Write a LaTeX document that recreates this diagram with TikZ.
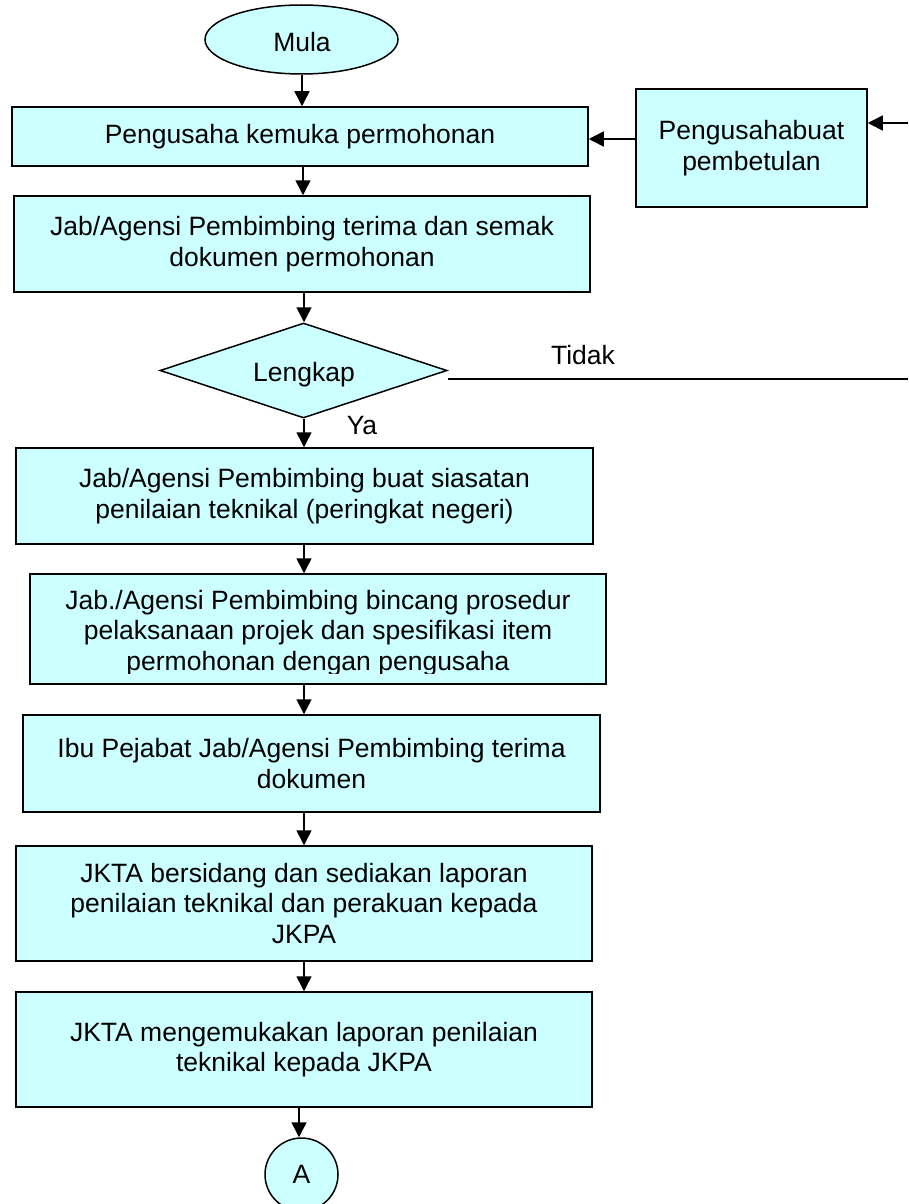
\documentclass[tikz,border=0pt]{standalone}
\usepackage{fontspec}
\setmainfont{Liberation Sans}
\usetikzlibrary{arrows.meta,shapes.geometric}
\definecolor{boxfill}{HTML}{CCFFFF}
\begin{document}
\begin{tikzpicture}[x=1pt,y=-1pt,
  every node/.style={font=\fontsize{26.5}{30.5}\selectfont},
  procbox/.style={draw=black,fill=boxfill,line width=1.5pt,rectangle,inner sep=0pt,align=center},
  decbox/.style={draw=black,fill=boxfill,line width=1.5pt,diamond,aspect=3,inner sep=0pt,minimum width=287pt,minimum height=95pt},
  termbox/.style={draw=black,fill=boxfill,line width=1.5pt,ellipse,inner sep=0pt,minimum width=193pt,minimum height=69pt},
  connbox/.style={draw=black,fill=boxfill,line width=1.5pt,circle,inner sep=0pt,minimum size=73pt},
  arr/.style={line width=1.5pt,-{Triangle[length=15pt,width=15pt]}},
  plainline/.style={line width=1.5pt},
  lbl/.style={inner sep=0pt}
]
\useasboundingbox (0,0) rectangle (908,1204);

% nodes
\node[termbox] (mula) at (301.5,39.5) {};
\node[lbl] (mulatext) at (302,42) {Mula};
\node[procbox,minimum width=576pt,minimum height=59pt] (b1) at (300,136.5) {Pengusaha kemuka permohonan};
\node[procbox,minimum width=231pt,minimum height=118pt] (side) at (751.5,148) {Pengusahabuat\\pembetulan};
\node[procbox,minimum width=576pt,minimum height=96pt] (b2) at (302,244) {Jab/Agensi Pembimbing terima dan semak\\dokumen permohonan};
\node[decbox] (dia) at (303.5,370.5) {};
\node[lbl] (diatext) at (304,375) {Lengkap};
\node[lbl] (tidak) at (583,355) {Tidak};
\node[lbl] (ya) at (362,426) {Ya};
\node[procbox,minimum width=577pt,minimum height=96pt] (b3) at (304.5,496) {Jab/Agensi Pembimbing buat siasatan\\penilaian teknikal (peringkat negeri)};
\node[procbox,minimum width=576pt,minimum height=110pt] (b4) at (318,629) {};
\begin{scope}
  \clip (30,574) rectangle (606,673);
  \node[lbl,align=center] (b4text) at (318,633) {Jab./Agensi Pembimbing bincang prosedur\\pelaksanaan projek dan spesifikasi item\\permohonan dengan pengusaha};
\end{scope}
\node[procbox,minimum width=577pt,minimum height=97pt] (b5) at (311.5,763.5) {Ibu Pejabat Jab/Agensi Pembimbing terima\\dokumen};
\node[procbox,minimum width=576pt,minimum height=115pt] (b6) at (304,903.5) {JKTA bersidang dan sediakan laporan\\penilaian teknikal dan perakuan kepada\\JKPA};
\node[procbox,minimum width=576pt,minimum height=115pt] (b7) at (304,1049.5) {JKTA mengemukakan laporan penilaian\\teknikal kepada JKPA};
\node[connbox] (conA) at (301.5,1174.5) {A};

% helper coordinates
\coordinate (c302) at (302,0);
\coordinate (c303) at (303,0);
\coordinate (c304) at (304,0);
\coordinate (c299) at (299,0);
\coordinate (r1) at (0,139);
\coordinate (inend) at (908,123);
\coordinate (tidakend) at (908,379);

% connectors
\draw[arr] (mula.south -| c302) -- (b1.north -| c302);
\draw[arr] (b1.south -| c303) -- (b2.north -| c303);
\draw[arr] (b2.south -| c304) -- (dia.north -| c304);
\draw[arr] (dia.south -| c304) -- (b3.north -| c304);
\draw[arr] (b3.south -| c304) -- (b4.north -| c304);
\draw[arr] (b4.south -| c304) -- (b5.north -| c304);
\draw[arr] (b5.south -| c304) -- (b6.north -| c304);
\draw[arr] (b6.south -| c304) -- (b7.north -| c304);
\draw[arr] (b7.south -| c299) -- (conA.north -| c299);
\draw[arr] (side.west |- r1) -- (b1.east |- r1);
\draw[arr] (inend) -- (side.east |- inend);
\draw[plainline] (dia.east |- tidakend) -- (tidakend);
\end{tikzpicture}
\end{document}
